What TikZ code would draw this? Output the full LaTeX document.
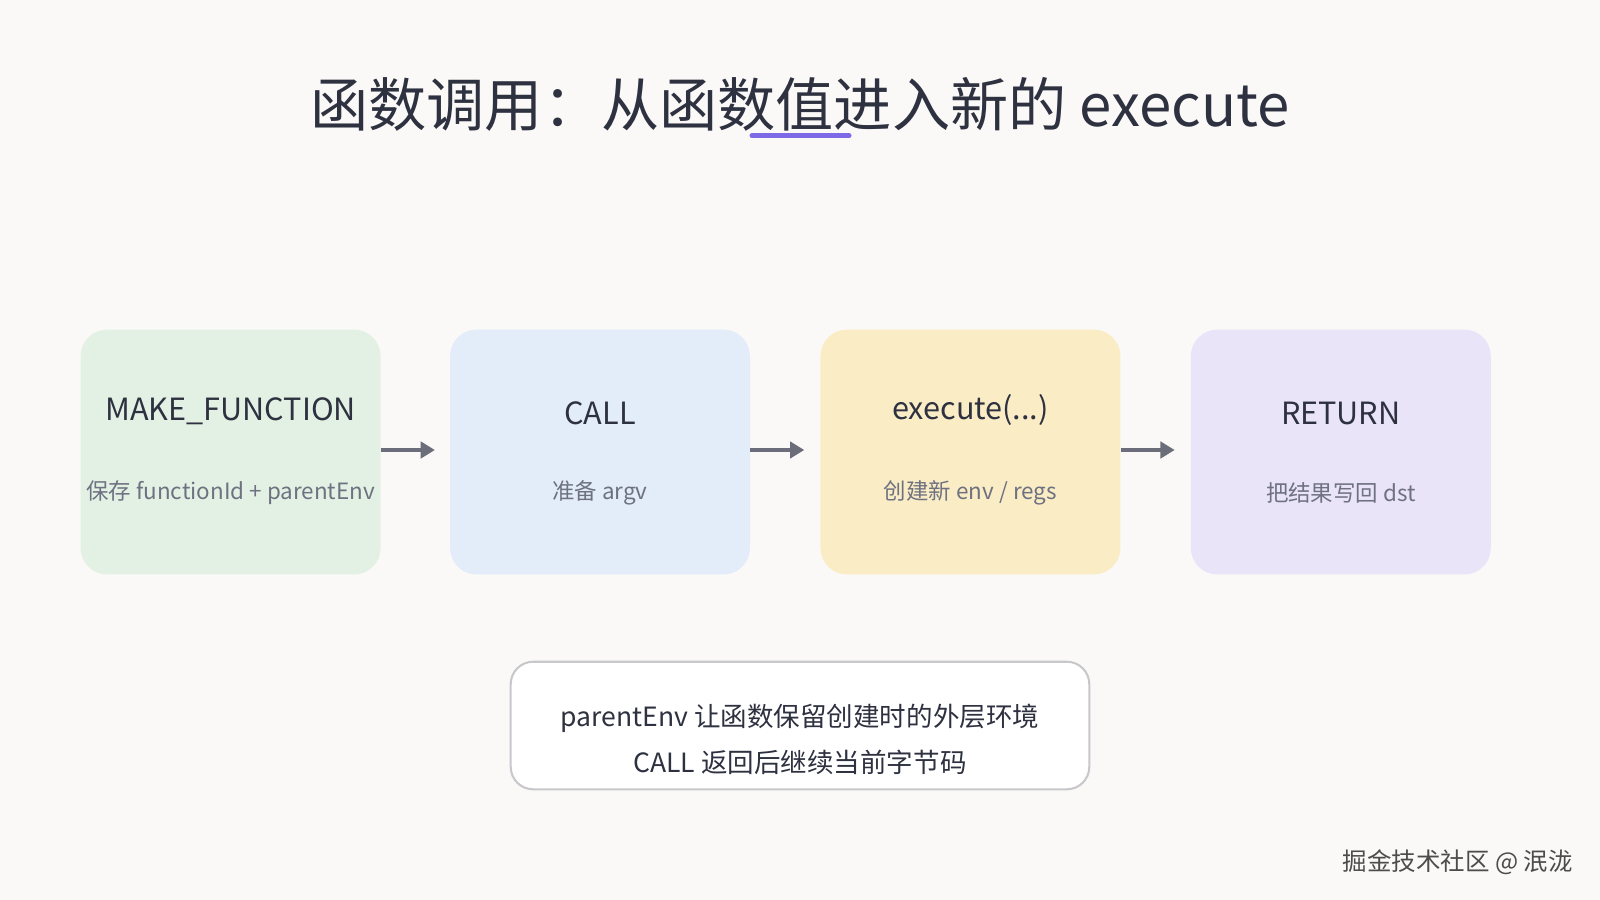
\documentclass[tikz,border=0pt]{standalone}
\usepackage{fontspec}
\setmainfont{Noto Sans CJK SC}
\usetikzlibrary{arrows.meta}
\definecolor{bg}{HTML}{FAF9F7}
\definecolor{ink}{HTML}{2E3140}
\definecolor{sub}{HTML}{6E7180}
\definecolor{arr}{HTML}{6B6E7A}
\begin{document}
\begin{tikzpicture}[x=1pt,y=-1pt,
 stage/.style={rounded corners=26pt,minimum width=294pt,minimum height=240pt,draw=none},
 ttl/.style={font=\fontsize{30}{36}\selectfont,text=ink},
 st/.style={font=\fontsize{22}{26}\selectfont,text=sub},
 conn/.style={draw=arr,line width=4pt,-{Triangle[length=14pt,width=16pt]}}]
\fill[bg] (0,0) rectangle (1568,882);
\useasboundingbox (0,0) rectangle (1568,882);
\node[font=\fontsize{57}{64}\selectfont,text=ink] (title) at (784,102) {函数调用：从函数值进入新的 execute};
\draw[line width=5pt,line cap=round,color={rgb,255:red,124;green,106;blue,230}] (737,133) coordinate (u1) -- (832,133) coordinate (u2);
\node[stage,fill={rgb,255:red,227;green,241;blue,228}] (b1) at (226,443) {};
\node[stage,fill={rgb,255:red,227;green,237;blue,249}] (b2) at (588,443) {};
\node[stage,fill={rgb,255:red,250;green,237;blue,198}] (b3) at (951,443) {};
\node[stage,fill={rgb,255:red,234;green,228;blue,248}] (b4) at (1314,443) {};
\node[ttl] (t1) at (226,403) {MAKE\_FUNCTION};
\node[st] (s1) at (226,483) {保存 functionId + parentEnv};
\node[ttl] (t2) at (588,405) {CALL};
\node[st] (s2) at (588,483) {准备 argv};
\node[ttl] (t3) at (951,402) {execute(...)};
\node[st] (s3) at (951,483) {创建新 env / regs};
\node[ttl] (t4) at (1314,405) {RETURN};
\node[st] (s4) at (1314,483) {把结果写回 dst};
\draw[conn] (b1.east|-0,441) -- ++(53,0) coordinate (e1);
\draw[conn] (b2.east|-0,441) -- ++(53,0) coordinate (e2);
\draw[conn] (b3.east|-0,441) -- ++(53,0) coordinate (e3);
\node[draw={rgb,255:red,200;green,200;blue,204},line width=2pt,fill=white,rounded corners=22pt,minimum width=567pt,minimum height=125pt] (note) at (784,711) {};
\node[align=center,font=\fontsize{26}{45}\selectfont,text=ink] (notetext) at (784,725) {parentEnv 让函数保留创建时的外层环境\\CALL 返回后继续当前字节码};
\node[font=\fontsize{24}{28}\selectfont,text=gray!60!black,anchor=east] (wm) at (1545,845) {掘金技术社区 @ 泯泷};
\end{tikzpicture}
\end{document}
